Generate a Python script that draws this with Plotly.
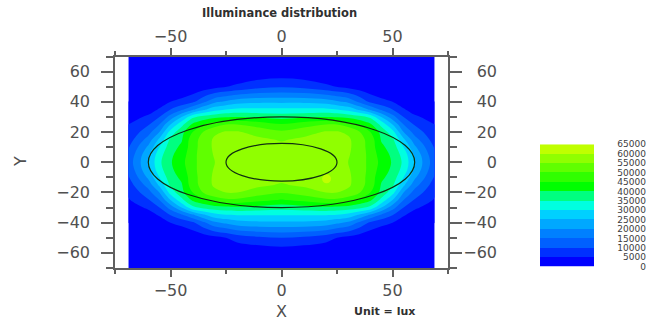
import plotly.graph_objects as go

title_text = "Illuminance distribution"
unit_text = "Unit = lux"
x_title = "X"
y_title = "Y"

left_x = [-69, -60, -55, -50, -45, -40, -35, -30, -25, -20, -10, 0]
y_values = [70, 60, 50, 40, 35, 30, 25, 20, 15, 10, 5, 0, -5, -10, -15, -20, -25, -30, -35, -40, -50, -60, -70]
left_lux = [
 [0,0,0,0,0,0,0,0,0,0,0,0],
 [0,0,0,0,0,0,0,0,200,500,1000,1500],
 [0,0,0,0,200,1000,2200,3500,4800,6000,8500,9500],
 [0,500,2000,5000,6500,9000,14000,19000,21000,23000,24000,24000],
 [500,2500,5500,10000,14000,19000,24000,28000,30000,31000,31000,31000],
 [2500,6000,10000,17000,25000,34000,37000,38500,39500,40000,39000,38000],
 [5000,9500,15000,25000,33500,41000,44500,48000,50000,50000,48000,45500],
 [6000,13000,20000,32000,38500,45000,50500,54000,55500,55500,53000,51000],
 [7500,17000,26000,36000,39500,48000,52000,56000,57000,57000,56000,54500],
 [9500,21000,30000,38000,41000,48000,52500,56000,57000,57000,57000,56500],
 [11000,24000,33000,39000,42500,48500,52500,55500,56500,57000,57500,57500],
 [12000,25000,34000,39500,43500,48500,52500,55000,56500,57000,57500,57500],
 [11000,24000,33000,39000,42500,48500,52500,55500,56500,57000,57500,57500],
 [9500,21000,30000,38000,41000,48000,52500,56000,57000,57000,57000,56500],
 [7500,17000,26000,36000,39500,48000,52000,56000,57000,57000,56000,54500],
 [5800,13000,20000,32000,38500,45000,50500,53500,55000,55000,52500,50500],
 [4500,9500,15000,25000,33500,41000,44000,47500,49000,49000,46500,44500],
 [2000,6000,10000,17000,25000,33500,36500,38000,38500,39000,38000,37000],
 [500,2500,5500,10000,14000,19000,24000,28000,29500,30000,30000,30000],
 [0,500,2000,5000,6500,9000,14000,19000,21000,23000,24000,24000],
 [0,0,0,0,200,1000,2200,3500,5000,7000,9000,10000],
 [0,0,0,0,0,0,0,0,200,500,1000,1500],
 [0,0,0,0,0,0,0,0,0,0,0,0],
]
# the small bright spot right of centre, below the axis
spot_x = [20.3]
spot_y = [-11]

levels = [0, 5000, 10000, 15000, 20000, 25000, 30000, 35000, 40000, 45000, 50000, 55000, 60000, 65000]
band_colors = ["#0000ff", "#0030ff", "#0060ff", "#0080ff", "#00a8ff", "#00d0ff", "#00ffe0",
               "#00ff80", "#00ff00", "#30ff00", "#60ff00", "#90ff00", "#c0ff00"]
outer_ellipse = [-60, 60, -30, 30]
inner_ellipse = [-25, 25, -12.5, 12.5]
x_ticks = [-50, 0, 50]
y_ticks = [-60, -40, -20, 0, 20, 40, 60]

x_values = left_x + [-v for v in left_x[-2::-1]]
lux = [row + row[-2::-1] for row in left_lux]

W, H = 652, 323
scale = []
n = len(band_colors)
for i, c in enumerate(band_colors):
    scale += [[i / n, c], [(i + 1) / n, c]]

ax_color = "#606060"
txt_color = "#505050"
tick_font = dict(family="DejaVu Sans", size=16, color=txt_color)

fig = go.Figure()
fig.add_trace(go.Contour(
    x=x_values, y=y_values, z=lux, zmin=0, zmax=65000, colorscale=scale, showscale=False,
    autocontour=False, contours=dict(start=0, end=65000, size=5000, coloring="fill", showlines=False),
    line=dict(width=0, smoothing=1), hoverinfo="skip"))
fig.add_trace(go.Scatter(x=spot_x, y=spot_y, mode="markers", showlegend=False, hoverinfo="skip",
                         marker=dict(color=band_colors[-1], size=9, line=dict(width=0))))
fig.add_trace(go.Scatter(x=[None], y=[None], xaxis="x2", yaxis="y2", showlegend=False, hoverinfo="skip"))
mids = [[(a + b) / 2] for a, b in zip(levels[:-1], levels[1:])]
fig.add_trace(go.Heatmap(x=[0, 1], y=levels, z=mids, zmin=0, zmax=65000, colorscale=scale, showscale=False,
                         xaxis="x3", yaxis="y3", hoverinfo="skip"))

for e in (outer_ellipse, inner_ellipse):
    fig.add_shape(type="circle", xref="x", yref="y", x0=e[0], x1=e[1], y0=e[2], y1=e[3],
                  line=dict(color="#103010", width=1.2))

frame = dict(showgrid=False, zeroline=False, showline=True, linecolor=ax_color, linewidth=1.5,
             mirror="allticks", ticks="outside", tickcolor=ax_color, tickwidth=1.5)
y_dom = [55 / H, 266.5 / H]
fig.update_layout(
    width=W, height=H, autosize=False, margin=dict(l=0, r=0, t=0, b=0, autoexpand=False),
    plot_bgcolor="white", paper_bgcolor="white", showlegend=False,
    xaxis=dict(domain=[115 / W, 448 / W], range=[-75, 75], tickvals=x_ticks, ticklen=7, tickfont=tick_font,
               minor=dict(tickvals=[-75, -25, 25, 75], ticks="outside", ticklen=4, tickcolor=ax_color, tickwidth=1.5),
               anchor="y", **frame),
    yaxis=dict(domain=y_dom, range=[-70, 70], tickvals=y_ticks, ticklen=12, tickfont=tick_font,
               minor=dict(tickvals=[-70, -50, -30, -10, 10, 30, 50, 70], ticks="outside", ticklen=7, tickcolor=ax_color, tickwidth=1.5),
               ticklabelstandoff=8, anchor="x", **frame),
    xaxis2=dict(domain=[115 / W, 448 / W], range=[-75, 75], tickvals=x_ticks, tickfont=tick_font, side="top",
                overlaying="x", anchor="y", ticks="outside", ticklen=7, tickcolor="rgba(0,0,0,0)",
                showgrid=False, zeroline=False, showline=False),
    yaxis2=dict(domain=y_dom, range=[-70, 70], tickvals=y_ticks, tickfont=tick_font, side="left",
                overlaying="y", anchor="free", position=497 / W, ticks="", showgrid=False, zeroline=False, showline=False),
    xaxis3=dict(domain=[540 / W, 594 / W], range=[0, 1], anchor="y3", visible=False),
    yaxis3=dict(domain=[56.3 / H, 178.7 / H], range=[0, 65000], tickvals=levels, tickformat="d", anchor="free", position=646 / W,
                side="left", ticks="", showgrid=False, zeroline=False, showline=False,
                tickfont=dict(family="DejaVu Sans", size=9, color="#404040")),
    annotations=[
        dict(text=f"<b>{title_text}</b>", x=279 / W, y=1 - 13 / H, xref="paper", yref="paper", showarrow=False,
             xanchor="center", yanchor="middle", font=dict(family="DejaVu Sans", size=11.5, color="#303030")),
        dict(text=f"<b>{unit_text}</b>", x=384 / W, y=1 - 311 / H, xref="paper", yref="paper", showarrow=False,
             xanchor="center", yanchor="middle", font=dict(family="DejaVu Sans", size=11, color="#303030")),
        dict(text=x_title, x=281 / W, y=1 - 311 / H, xref="paper", yref="paper", showarrow=False,
             xanchor="center", yanchor="middle", font=dict(family="DejaVu Sans", size=16, color=txt_color)),
        dict(text=y_title, x=20 / W, y=1 - 162 / H, xref="paper", yref="paper", showarrow=False, textangle=-90,
             xanchor="center", yanchor="middle", font=dict(family="DejaVu Sans", size=16, color=txt_color)),
    ],
)
fig.write_html("out.html", config=dict(displayModeBar=False),
               post_script="document.body.style.margin='0';document.documentElement.style.overflow='hidden';")
